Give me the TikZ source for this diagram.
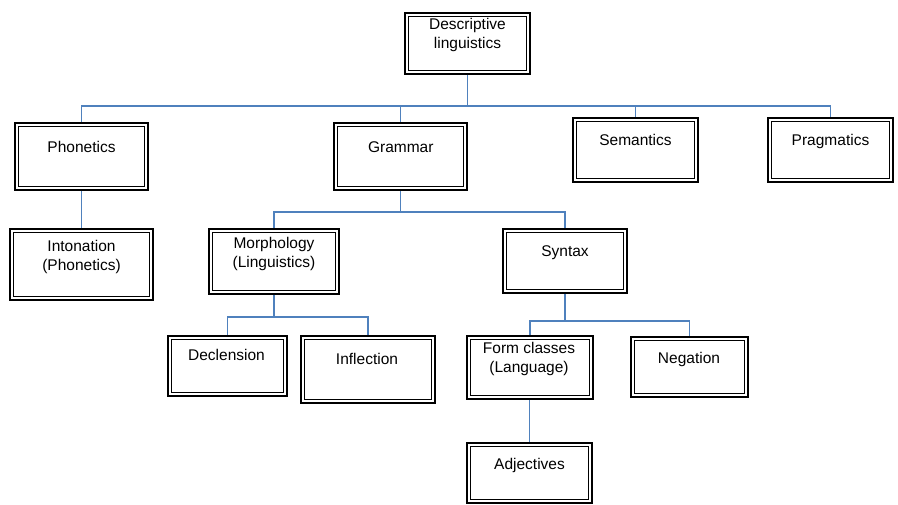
\documentclass[tikz,border=0pt]{standalone}
\usepackage{fontspec}
\setmainfont{Liberation Sans}
\definecolor{linkblue}{RGB}{79,129,189}
\tikzset{
  dbox/.style={draw=black, line width=2pt, rectangle, inner sep=0pt,
    minimum width=#1, 
    path picture={\draw[line width=1pt,black]
      ([shift={(3.6pt,-3.6pt)}]path picture bounding box.north west) rectangle
      ([shift={(-3.6pt,3.6pt)}]path picture bounding box.south east);}},
  lbl/.style={anchor=base, inner sep=0pt, font=\fontsize{15.5}{19}\selectfont},
  conn/.style={draw=linkblue, line width=1.1pt}
}
\begin{document}
\begin{tikzpicture}[x=1pt,y=-1pt]
\useasboundingbox[fill=white] (0,0) rectangle (898,505);

% boxes
\node[dbox=125pt, minimum height=61pt] (dl) at (467.5,43.5) {};
\node[dbox=133pt, minimum height=67pt] (ph) at (81.5,156.5) {};
\node[dbox=133pt, minimum height=67pt] (gr) at (400.5,156.5) {};
\node[dbox=125pt, minimum height=64pt] (se) at (635.5,150) {};
\node[dbox=125pt, minimum height=64pt] (pr) at (830.5,150) {};
\node[dbox=143pt, minimum height=71.5pt] (in) at (81.5,264.75) {};
\node[dbox=130pt, minimum height=65pt] (mo) at (274,261.5) {};
\node[dbox=124pt, minimum height=64pt] (sy) at (565,261) {};
\node[dbox=119pt, minimum height=60pt] (de) at (227.5,366) {};
\node[dbox=134pt, minimum height=67pt] (if) at (368,369.5) {};
\node[dbox=126pt, minimum height=63pt] (fc) at (530,367.5) {};
\node[dbox=117pt, minimum height=60pt] (ne) at (689.5,367) {};
\node[dbox=125pt, minimum height=60pt] (ad) at (529.5,473) {};

% labels
\node[lbl] (dl-a) at (467.5,29.5) {Descriptive};
\node[lbl] (dl-b) at (467.5,48.5) {linguistics};
\node[lbl] (ph-a) at (81.5,152.3) {Phonetics};
\node[lbl] (gr-a) at (400.8,152.3) {Grammar};
\node[lbl] (se-a) at (635.5,145.3) {Semantics};
\node[lbl] (pr-a) at (830.5,145.3) {Pragmatics};
\node[lbl] (in-a) at (81.5,251.7) {Intonation};
\node[lbl] (in-b) at (81.5,270.7) {(Phonetics)};
\node[lbl] (mo-a) at (274,248.3) {Morphology};
\node[lbl] (mo-b) at (274,267.3) {(Linguistics)};
\node[lbl] (sy-a) at (565,256.7) {Syntax};
\node[lbl] (de-a) at (226.5,361) {Declension};
\node[lbl] (if-a) at (367,365) {Inflection};
\node[lbl] (fc-a) at (529,353.3) {Form classes};
\node[lbl] (fc-b) at (529,372.3) {(Language)};
\node[lbl] (ne-a) at (689,363.3) {Negation};
\node[lbl] (ad-a) at (529.5,469) {Adjectives};

% bus levels
\coordinate (busA) at (0,106);
\coordinate (busB) at (0,212);
\coordinate (busC) at (0,317);
\coordinate (busD) at (0,321);

% connectors
\draw[conn] (dl.south) -- (dl.south |- busA);
\draw[conn] (ph.north) -- (ph.north |- busA) -| (pr.north);
\draw[conn] (gr.north) -- (gr.north |- busA);
\draw[conn] (se.north) -- (se.north |- busA);
\draw[conn] (ph.south) -- (in.north);
\draw[conn] (gr.south) -- (gr.south |- busB);
\draw[conn] (mo.north) -- (mo.north |- busB) -| (sy.north);
\draw[conn] (mo.south) -- (mo.south |- busC);
\draw[conn] (de.north) -- (de.north |- busC) -| (if.north);
\draw[conn] (sy.south) -- (sy.south |- busD);
\draw[conn] (fc.north) -- (fc.north |- busD) -| (ne.north);
\draw[conn] (ad.north |- fc.south) -- (ad.north);
\end{tikzpicture}
\end{document}
